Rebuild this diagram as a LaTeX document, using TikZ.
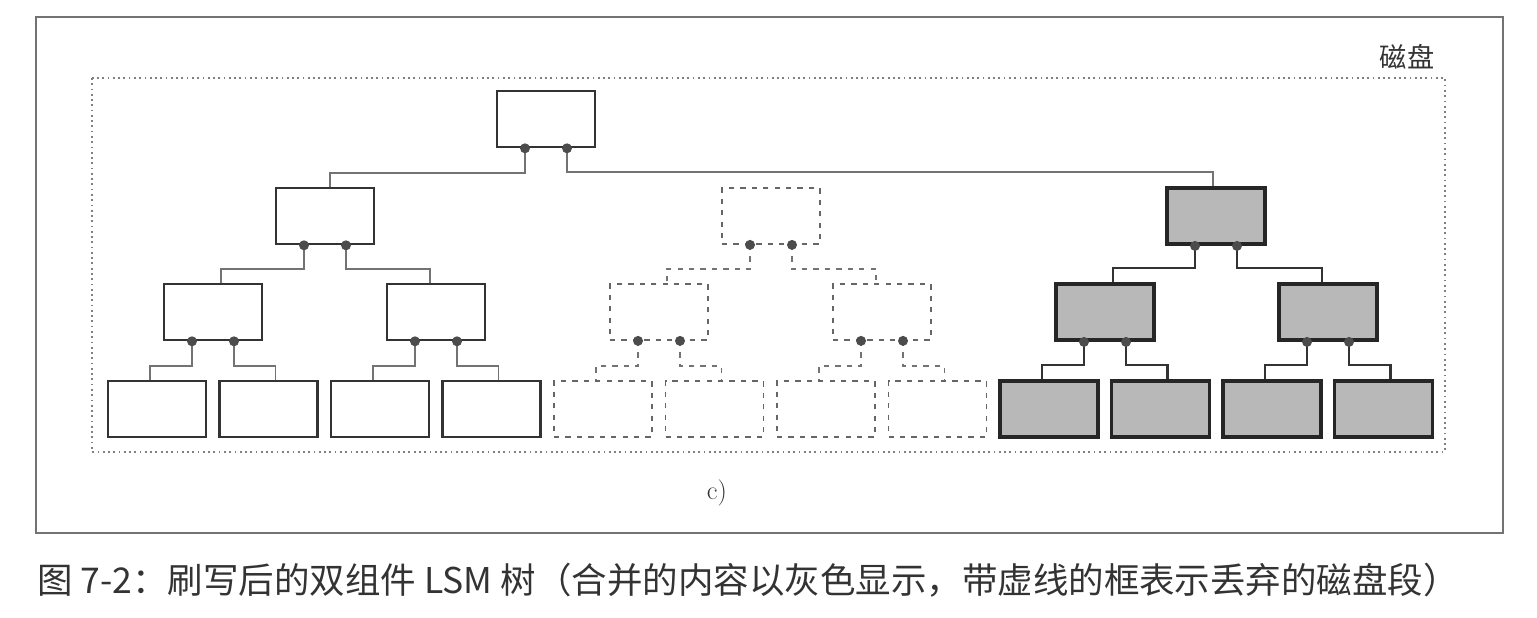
\documentclass[tikz,border=0pt]{standalone}
\usepackage{fontspec}
\newfontfamily\cjk{Noto Sans CJK SC}
\usetikzlibrary{calc}
\tikzset{
  seg/.style={draw=black!80, line width=1.5pt, minimum width=1.96cm, minimum height=1.12cm, inner sep=0pt},
  merged/.style={seg, fill=black!28, draw=black!85, line width=2.2pt},
  dropped/.style={seg, draw=black!60, line width=1pt, dash pattern=on 3pt off 3.5pt},
  wire/.style={draw=black!55, line width=1pt},
  mergedwire/.style={draw=black!80, line width=1.3pt},
  dropwire/.style={wire, dash pattern=on 3pt off 3.5pt}
}
\begin{document}
\begin{tikzpicture}[x=0.02cm,y=-0.02cm]
\useasboundingbox (0,0) rectangle (1537,618);
\draw[black!55, line width=0.8pt] (36,17) rectangle (1503,533);
\draw[black!50, dotted, line width=1pt] (92,78) rectangle (1445,452);
\node[text=black!80, font=\cjk\fontsize{15.5}{18}\selectfont] (disk) at (1407,57) {磁盘};
\node[text=black!80, font=\fontsize{15}{17}\selectfont] (sub) at (717,493) {c)};
\node[anchor=west, inner sep=0pt, text=black!80, font=\cjk\fontsize{20.2}{23}\selectfont] (caption) at (37,580)
  {图 7-2：刷写后的双组件 LSM 树（合并的内容以灰色显示，带虚线的框表示丢弃的磁盘段）};

\node[seg] (root) at (546,119) {};
\node[seg] (a) at (325,216) {};
\node[dropped] (b) at (771,216) {};
\node[merged] (c) at (1216,216) {};
\foreach \i/\s in {1/seg,2/seg,3/dropped,4/dropped,5/merged,6/merged}
  \node[\s] (m\i) at ({213+223*(\i-1)},312) {};
\foreach \i/\s in {1/seg,2/seg,3/seg,4/seg,5/dropped,6/dropped,7/dropped,8/dropped,9/merged,10/merged,11/merged,12/merged}
  \node[\s] (l\i) at ({157+111.5*(\i-1)},409) {};

\draw[wire] ($(root.south)+(-21,0)$) |- ($(a.north)+(5,-14)$) -- ($(a.north)+(5,0)$);
\draw[wire] ($(root.south)+(21,0)$) |- ($(c.north)+(-3,-14)$) -- ($(c.north)+(-3,0)$);
\foreach \p/\l/\r/\w in {a/m1/m2/wire, b/m3/m4/dropwire, c/m5/m6/mergedwire}{
  \draw[\w] ($(\p.south)+(-21,0)$) |- ($(\l.north)+(8,-14)$) -- ($(\l.north)+(8,0)$);
  \draw[\w] ($(\p.south)+(21,0)$) |- ($(\r.north)+(-6,-14)$) -- ($(\r.north)+(-6,0)$);
}
\foreach \p/\l/\r/\w in {m1/l1/l2/wire, m2/l3/l4/wire, m3/l5/l6/dropwire, m4/l7/l8/dropwire, m5/l9/l10/mergedwire, m6/l11/l12/mergedwire}{
  \draw[\w] ($(\p.south)+(-21,0)$) |- ($(\l.north)+(-7,-14)$) -- ($(\l.north)+(-7,0)$);
  \draw[\w] ($(\p.south)+(21,0)$) |- ($(\r.north)+(7,-14)$) -- ($(\r.north)+(7,0)$);
}
\foreach \p in {root,a,b,c,m1,m2,m3,m4,m5,m6}
  \foreach \d in {-21,21}
    \fill[black!70] ($(\p.south)+(\d,0)$) circle (0.1cm);
\end{tikzpicture}
\end{document}
